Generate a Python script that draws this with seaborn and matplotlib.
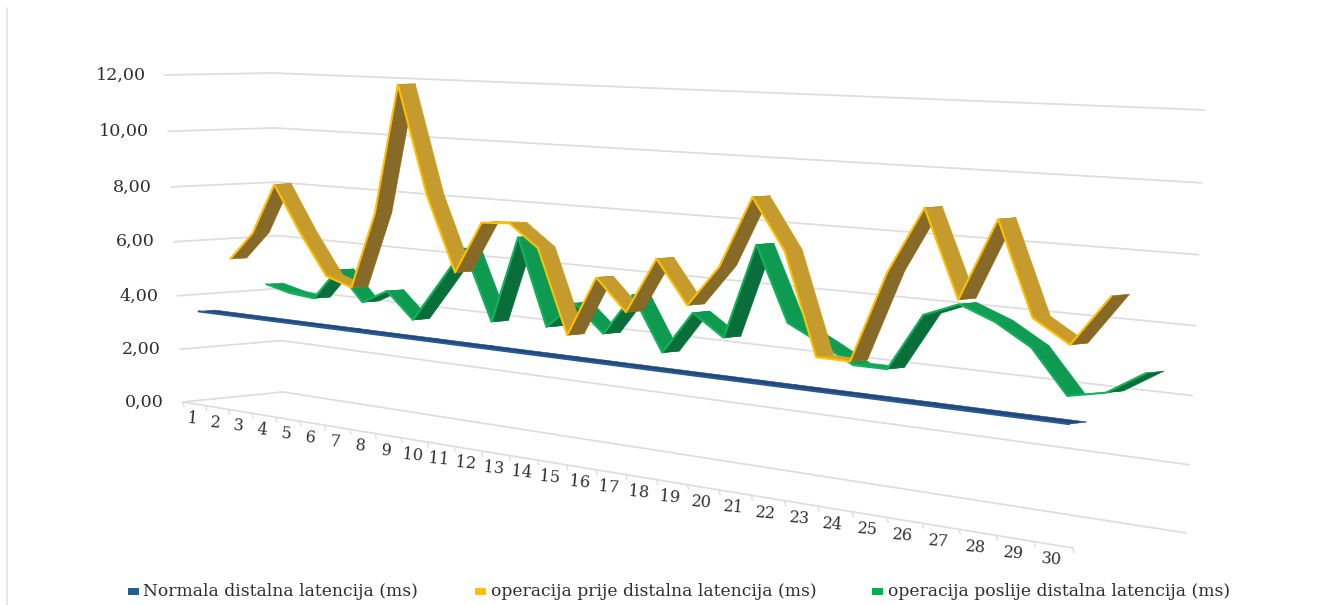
import matplotlib
matplotlib.use("Agg")
import matplotlib.pyplot as plt
from matplotlib.patches import Polygon, Rectangle
import numpy as np
import pandas as pd
import seaborn as sns

# ---- chart data -------------------------------------------------------------
patients = list(range(1, 31))
value_ticks = [0, 2, 4, 6, 8, 10, 12]
value_labels = ["0,00", "2,00", "4,00", "6,00", "8,00", "10,00", "12,00"]

normala = [3.45] * 30
prije = [5.31, 6.34, 8.19, 6.52, 5.07, 4.76, 7.46, 11.93, 8.24, 5.69,
         7.47, 7.53, 6.79, 3.99, 6.01, 4.98, 6.81, 5.42, 6.74, 8.99,
         7.42, 4.25, 4.24, 7.04, 9.04, 6.44, 8.87, 6.13, 5.47, 6.97]
poslije = [4.28, 4.05, 3.96, 5.10, 4.03, 4.54, 3.61, 4.97, 6.34, 3.88,
           6.90, 3.93, 4.85, 3.93, 5.34, 3.54, 4.97, 4.27, 7.35, 4.98,
           4.46, 3.89, 3.89, 5.67, 6.10, 5.68, 5.04, 3.74, 3.97, 4.67]

names = ["Normala distalna latencija (ms)",
         "operacija prije distalna latencija (ms)",
         "operacija poslije distalna latencija (ms)"]

# ---- 3-D box seen in perspective, expressed in figure pixels ----------------
FLOOR = {"fl": (183, 402), "bl": (283, 392), "fr": (1073, 548), "br": (1186, 533)}
RISE = {"fl": (-18, -327), "bl": (-10, -319), "fr": (20, -430), "br": (19, -423)}
CROWD = 1.32        # foreshortening along the category axis
LIFT = 1.04         # foreshortening along the value axis
RIBBON = 0.16       # ribbon width as a share of the box depth
VMAX = 12.0


def along(t):
    return t / (t + CROWD * (1 - t))


def upward(value):
    w = value / VMAX
    return w / (w + LIFT * (1 - w))


def bilinear(table, f, s):
    a = np.array(table["fl"]) * (1 - s) + np.array(table["bl"]) * s
    b = np.array(table["fr"]) * (1 - s) + np.array(table["br"]) * s
    return a * (1 - f) + b * f


def project(t, value, s):
    """Map axis share t, data value and depth share s to picture coordinates."""
    f = along(t)
    return bilinear(FLOOR, f, s) + bilinear(RISE, f, s) * upward(value)


def centre(i):
    return (i + 0.5) / len(patients)


sns.set_theme(style="white")
plt.rcParams["font.family"] = ["DejaVu Serif"]
fig = plt.figure(figsize=(13.28, 6.05), dpi=100, facecolor="white")
ax = fig.add_axes([0, 0, 1, 1])

GRID = "#DEDEDE"
TEXT = "#2E2E2E"

# frame edge on the left
ax.add_line(plt.Line2D([7, 7], [8, 605], color="#E4E4E4", lw=1.2))

# wall grid lines and floor outline
rows = []
for v in value_ticks:
    for order, (t, s) in enumerate([(0, 0), (0, 1), (1, 1)]):
        x, y = project(t, v, s)
        rows.append({"x": x, "y": y, "level": v, "order": order})
sns.lineplot(data=pd.DataFrame(rows), x="x", y="y", units="level", estimator=None,
             sort=False, color=GRID, lw=1.3, ax=ax, legend=False, zorder=1)

# front edge of the floor with category ticks
x0, y0 = project(0, 0, 0)
x1, y1 = project(1, 0, 0)
edge = pd.DataFrame({"x": [x0, x1], "y": [y0, y1]})
sns.lineplot(data=edge, x="x", y="y", estimator=None, sort=False, color=GRID,
             lw=1.3, ax=ax, legend=False, zorder=1)
for k in range(len(patients) + 1):
    x, y = project(k / len(patients), 0, 0)
    ax.plot([x, x + 1], [y, y + 5], color=GRID, lw=1.0, zorder=1)

for i, p in enumerate(patients):
    x, y = project(centre(i), 0, 0)
    ax.text(x - 2, y + 15, str(p), ha="center", va="center", fontsize=11.6,
            rotation=-5, color=TEXT, rotation_mode="anchor")

for v, lab in zip(value_ticks, value_labels):
    x, y = project(0, v, 0)
    ax.text(x - 19, y, lab, ha="right", va="center", fontsize=12.6, color=TEXT)


def mix(a, b, w):
    ca, cb = np.array(matplotlib.colors.to_rgb(a)), np.array(matplotlib.colors.to_rgb(b))
    return tuple(ca * (1 - w) + cb * w)


def ribbon(values, s_front, top, top_flat, under, edge_colour, z):
    """Draw one series as a folded band, left to right, with its lit front edge."""
    front = np.array([project(centre(i), v, s_front) for i, v in enumerate(values)])
    back = np.array([project(centre(i), v, s_front + RIBBON) for i, v in enumerate(values)])
    for i in range(len(values) - 1):
        quad = np.array([front[i], front[i + 1], back[i + 1], back[i]])
        xs, ys = quad[:, 0], quad[:, 1]
        area = 0.5 * np.sum(xs * np.roll(ys, -1) - np.roll(xs, -1) * ys)
        # screen y points down: a negative area means the upper face is in view
        if area < 0:
            run = front[i + 1] - front[i]
            flat = 1 - min(1.0, abs(run[1]) / (abs(run[0]) + 1e-6))
            colour = mix(top, top_flat, flat ** 2)
        else:
            colour = under
        ax.add_patch(Polygon(quad, closed=True, facecolor=colour, edgecolor=colour,
                             lw=0.4, zorder=z))
    line = pd.DataFrame({"x": front[:, 0], "y": front[:, 1]})
    sns.lineplot(data=line, x="x", y="y", estimator=None, sort=False, color=edge_colour,
                 lw=1.5, ax=ax, legend=False, zorder=z + 0.5)


ribbon(poslije, 0.76, "#0E9A50", "#14A85A", "#0A6E3A", "#12B35C", 3)
ribbon(prije, 0.42, "#C59B2E", "#DDAA26", "#876A28", "#FFC000", 4)
ribbon(normala, 0.09, "#1F497D", "#1F497D", "#17365D", "#2A5A92", 5)

# legend row
legend_x = [(128, 143), (475, 491), (872, 888)]
legend_colours = ["#255E91", "#FFC000", "#00B050"]
for (sx, tx), col, name in zip(legend_x, legend_colours, names):
    ax.add_patch(Rectangle((sx, 588), 11, 7, facecolor=col, edgecolor="none", zorder=6))
    ax.text(tx, 591, name, ha="left", va="center", fontsize=12.3, color=TEXT)

ax.set_xlim(0, 1328)
ax.set_ylim(605, 0)
ax.axis("off")
fig.savefig("out.png", dpi=100, facecolor="white")
